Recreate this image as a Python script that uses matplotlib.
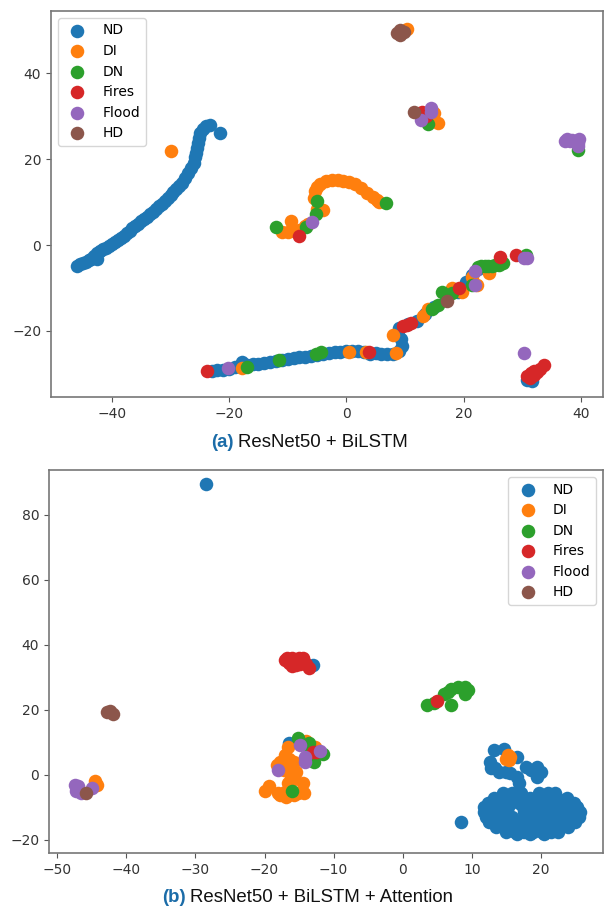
import matplotlib
matplotlib.use('Agg')
import matplotlib.pyplot as plt

labels = ['ND', 'DI', 'DN', 'Fires', 'Flood', 'HD']
colors = ['#1f77b4', '#ff7f0e', '#2ca02c', '#d62728', '#9467bd', '#8c564b']

# panel (a)
a_nd = [(-46, -4.8), (-45.5, -4.5), (-45, -4.2), (-44.5, -3.9), (-44, -3.6), (-43.5, -3.2), (-43, -2.6),
        (-42.5, -3.2), (-42.5, -1.8), (-42, -1.4), (-41.5, -1), (-41, -0.6), (-40.5, -0.2), (-40, 0.2),
        (-39.5, 0.7), (-39, 1.2), (-38.5, 1.7), (-38, 2.2), (-37.5, 2.8), (-37, 3.3), (-36.5, 3.9),
        (-36, 4.4), (-35.5, 5), (-35, 5.5), (-34.5, 6), (-34, 6.6), (-33.5, 7.2), (-33, 7.8), (-32.5, 8.4),
        (-32, 9), (-31.5, 9.6), (-31, 10.2), (-30.5, 10.9), (-30, 11.6), (-29.5, 12.3), (-29, 13),
        (-28.5, 13.7), (-28, 14.5), (-27.5, 15.6), (-27, 16.8), (-26.5, 18), (-26, 19.2), (-25.8, 20.5),
        (-25.6, 21.5), (-25.5, 22.5), (-25.3, 23.7), (-25.2, 25), (-25, 26), (-24.5, 27), (-24, 27.6),
        (-23.3, 28), (-21.6, 26.1),
        (-23, -29.4), (-22, -29.2), (-21, -29), (-20, -28.8), (-19, -28.5), (-18, -28.2), (-17.8, -27.3),
        (-17, -28), (-16, -27.8), (-15, -27.6), (-14, -27.4), (-13, -27.2), (-12, -27), (-11, -26.7),
        (-10, -26.5), (-9, -26.3), (-8, -26.2), (-7, -26), (-6, -25.8), (-5, -25.6), (-4, -25.4),
        (-3, -25.2), (-2, -25), (-1, -24.9), (0, -24.8), (1, -24.8), (2, -24.8), (3, -24.9), (4, -25.5),
        (5, -25.2), (6, -25.3), (7, -25.5), (8, -25.4), (9, -24.8), (9.5, -23.5), (9.3, -22), (8.8, -21),
        (9, -19.3), (10.5, -18.5), (12, -17.6), (13.5, -16), (15, -14.5), (17, -12.7), (19, -11),
        (20.5, -8.6), (21.5, -7), (22.5, -5.5), (30.9, -31.5), (31.6, -31.6)]
a_di = [(-29.9, 21.9), (10.4, 50.3), (15.6, 28.3), (15, 30.8), (14.5, 30),
        (-5.6, 11), (-5.4, 12.5), (-5, 13.5), (-4.5, 14.3), (-3.5, 14.9), (-2.5, 15.2), (-1.5, 15.2),
        (-0.5, 15), (0.5, 14.7), (1.5, 14.2), (2.5, 13.2), (3.5, 12.2), (4.5, 11.2), (5.3, 10.5), (5.6, 10),
        (-4, 8.2), (-5, 8.3), (-9.5, 5.7), (-11, 3), (-10, 3), (-9, 3.2), (-8, 3.5), (-7, 4.5), (-6.5, 5),
        (-17.8, -28.6), (0.4, -24.9), (3.4, -24.9), (8.5, -25.1), (8, -21), (13, -16.5), (14, -14.9),
        (18.1, -10), (19.8, -11), (21.5, -7.4), (22.3, -9.4), (24.3, -6.6)]
a_dn = [(6.7, 9.7), (-5, 10.3), (-5.2, 7.3), (-12, 4.1), (-6.8, 4.2), (13.9, 28.2), (39.5, 22.1),
        (-17, -28.5), (-11.5, -26.8), (-5.2, -25.3), (-4.4, -25), (14.7, -14.9), (15.6, -14),
        (16.4, -11), (18.1, -11.2), (21.5, -9.3), (22.4, -5.2), (23, -5), (23.6, -5), (24.2, -4.9),
        (24.8, -4.8), (25.4, -4.7), (26, -4.6), (26.7, -4.3), (30.6, -2.3)]
a_fires = [(-8, 2), (12.9, 31), (13.6, 30), (-23.7, -29.4), (3.8, -25), (9.6, -18.9), (10.3, -18.6),
           (11, -18.2), (19.3, -10.1), (26.3, -2.8), (29, -2.3), (30.9, -30.5), (31.3, -31), (31.5, -29.9),
           (32, -30.2), (32, -29.3), (32.6, -29.6), (33, -28.9), (33.8, -28)]
a_flood = [(-5.9, 5.3), (14.4, 31.9), (14.4, 30.9), (12.8, 29.1), (37.4, 24.2), (37.7, 24.6), (38.2, 24.2),
           (38.5, 24.5), (39.7, 24.7), (39.5, 23.8), (39.5, 23.1), (-20.2, -28.7),
           (21.9, -9.3), (22, -6), (30.4, -3.1), (30.9, -3), (30.4, -25.2)]
a_hd = [(8.6, 49.3), (9.9, 49.6), (9.2, 48.8), (9.2, 50), (11.5, 31), (17.1, -13)]

# panel (b), the big ND cloud is kept row by row
cloud_rows = [(-5.5, [14.5, 15.8, 17.1, 19.7, 21, 22]),
              (-7, [13.2, 14.5, 15.8, 17.1, 18.4, 19.7, 21, 22.3, 23.8]),
              (-8.5, [12.3, 13.6, 14.9, 16.8, 18, 19.3, 20.6, 21.9, 23.2, 24.8]),
              (-10, [11.8, 13.1, 14.4, 15.2, 17.4, 18.7, 20, 21.3, 22.6, 23.9, 25.3]),
              (-11.5, [11.8, 13.1, 14.2, 17.6, 19, 20.3, 21.6, 22.9, 24.2, 25.6]),
              (-13, [12, 13.3, 14.5, 15.8, 17.6, 18.9, 20.2, 21.5, 22.8, 24.1, 25.5]),
              (-14.5, [12.5, 13.8, 15.1, 16.4, 17.7, 19, 20.3, 21.6, 22.9, 24.2, 25]),
              (-16, [13.5, 14.8, 16.1, 17.4, 18.7, 20, 21.3, 22.6, 24]),
              (-17.5, [15, 16.3, 17.6, 18.9, 20.2, 21.5, 22.5]),
              (-18.2, [16.5, 18.5, 20.5])]
b_nd = [(-28.4, 89.4), (-13, 33.8), (-16.4, 9.9), (8.4, -14.5),
        (13.2, 7.7), (14.6, 8), (16.5, 5.5), (12.7, 4), (12.8, 2.2), (14, 1), (15.5, 0.6), (16.6, -0.6),
        (16.9, -2.6), (17.9, 2.5), (19.4, 2.5), (20, 1), (19.5, -0.6), (18.6, 1.5), (15, 1), (13.4, 2)]
for row_y, row_x in cloud_rows:
    b_nd += [(v, row_y) for v in row_x]
b_di = [(-44.6, -2), (-44.2, -3), (15.2, 6.2), (15.4, 4.5), (15, 4.8), (15.6, 5.4),
        (-14, 10.3), (-12.7, 8.7), (-16.6, 8.5), (-15.7, 4.1), (-17.8, 4), (-17.1, 6.1), (-16.5, 4.8),
        (-17.2, 1.5), (-16.2, -0.5), (-15.7, -1.3), (-16.6, -2.6), (-15.5, 0.8), (-20, -4.8), (-19.3, -3.3),
        (-14.4, -2.5), (-14.3, -5.5), (-17.8, -6.2), (-16.9, -6.7), (-15.8, -6.2), (-15.2, -5.5),
        (-18.2, 3.2), (-17.5, 2.5), (-16.8, 3), (-16, 1.5), (-18, -5.5), (-17, -5.2), (-16.5, -4.5)]
b_dn = [(-15.2, 11.3), (-13.5, 9.8), (-11.5, 6.5), (-12.9, 4.1), (-13.5, 6.5), (-16, -5),
        (3.5, 21.5), (4.5, 22), (6, 25), (6.5, 25.6), (7, 26.5), (8, 27.2), (9, 27), (9.5, 26), (9, 25),
        (7, 21.5)]
b_fires = [(-13, 7), (-12.5, 7), (5, 22.8),
           (-17, 35.5), (-16.5, 34.5), (-16, 33.5), (-16, 36), (-15.5, 35), (-15, 36), (-14.5, 35.8),
           (-14.8, 34), (-14, 34), (-13.5, 32.8), (-15.5, 33.8), (-16.8, 36), (-14.4, 36)]
b_flood = [(-47.5, -3), (-47.3, -5), (-46.5, -5.5), (-45, -4), (-47, -3.5), (-14.9, 9.1), (-11.9, 7.4),
           (-14.1, 5.4), (-14.1, 3.9), (-18, 1.4)]
b_hd = [(-42.4, 19.7), (-42, 18.8), (-42.8, 19.5), (-45.8, -5.5)]

panel_a = [a_nd, a_di, a_dn, a_fires, a_flood, a_hd]
panel_b = [b_nd, b_di, b_dn, b_fires, b_flood, b_hd]

W, H = 604, 908
fig = plt.figure(figsize=(W / 100, H / 100), dpi=100)
ax1 = fig.add_axes([51 / W, 1 - 397 / H, 552 / W, 386 / H])
ax2 = fig.add_axes([49 / W, 1 - 853 / H, 554 / W, 383 / H])


def draw(ax, series, xlim, ylim, xticks, yticks, loc):
    for pts, lab, c in zip(series, labels, colors):
        ax.scatter([p[0] for p in pts], [p[1] for p in pts], s=95, c=c, label=lab, linewidths=0)
    ax.set_xlim(*xlim)
    ax.set_ylim(*ylim)
    ax.set_xticks(xticks)
    ax.set_yticks(yticks)
    ax.tick_params(labelsize=10, colors='#333333', color='#555555')
    for s in ax.spines.values():
        s.set_color('#777777')
        s.set_linewidth(1.2)
    ax.legend(loc=loc, fontsize=10, scatterpoints=1, labelspacing=0.47)


draw(ax1, panel_a, (-50.4, 43.8), (-35.4, 54.5), [-40, -20, 0, 20, 40], [-20, 0, 20, 40], 'upper left')
draw(ax2, panel_b, (-51.2, 29), (-24, 93.8), [-50, -40, -30, -20, -10, 0, 10, 20], [-20, 0, 20, 40, 60, 80],
     'upper right')

sans = 'Liberation Sans'
fig.text(211 / W, 1 - 447 / H, '(a)', color='#1b6ca8', fontweight='bold', family=sans, fontsize=13.4)
fig.text(238 / W, 1 - 447 / H, 'ResNet50 + BiLSTM', color='#111111', family=sans, fontsize=13.4)
fig.text(162 / W, 1 - 902 / H, '(b)', color='#1b6ca8', fontweight='bold', family=sans, fontsize=13.4)
fig.text(190 / W, 1 - 902 / H, 'ResNet50 + BiLSTM + Attention', color='#111111', family=sans, fontsize=13.4)

plt.savefig('out.png', dpi=100)
